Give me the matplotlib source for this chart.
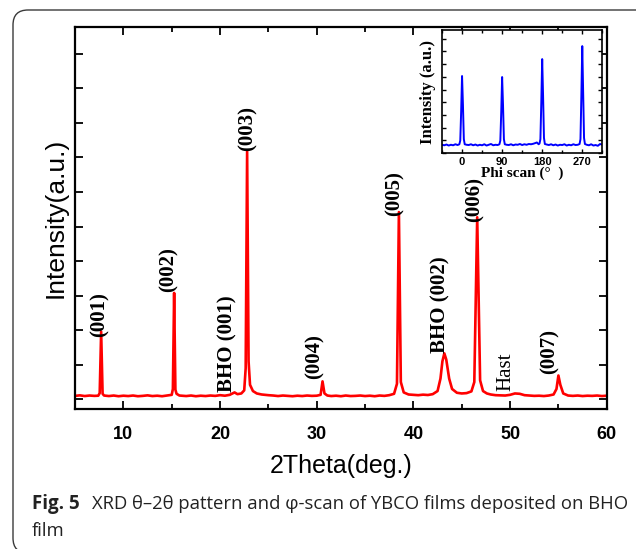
import matplotlib.pyplot as plt
from matplotlib.patches import FancyBboxPatch
from matplotlib.ticker import MultipleLocator

# XRD theta-2theta pattern (arbitrary counts)
theta = [5.0, 5.5, 6.0, 6.5, 7.0, 7.4, 7.55, 7.7, 7.85, 8.0, 8.5, 9.0, 9.5, 10.0, 10.5,
         11.0, 11.5, 12.0, 12.5, 13.0, 13.5, 14.0, 14.5, 15.0, 15.12, 15.25, 15.38, 15.5,
         15.8, 16.5, 17.0, 17.5, 18.0, 18.5, 19.0, 19.5, 20.0, 20.5, 21.0, 21.5, 21.8,
         22.2, 22.5, 22.65, 22.8, 22.95, 23.1, 23.4, 23.8, 24.3, 25.0, 25.5, 26.0, 26.5,
         27.0, 27.5, 28.0, 28.5, 29.0, 29.5, 30.0, 30.4, 30.6, 30.8, 31.1, 31.5, 32.0,
         32.5, 33.0, 33.5, 34.0, 34.5, 35.0, 35.5, 36.0, 36.5, 37.0, 37.5, 38.0, 38.3,
         38.5, 38.7, 39.0, 39.5, 40.0, 40.5, 41.0, 41.5, 42.0, 42.5, 42.8, 43.0, 43.2,
         43.4, 43.7, 44.0, 44.5, 45.0, 45.5, 46.0, 46.3, 46.6, 46.9, 47.2, 47.6, 48.0,
         48.5, 49.0, 49.5, 50.0, 50.5, 51.0, 51.5, 52.0, 52.5, 53.0, 53.5, 54.0, 54.5,
         54.8, 55.0, 55.2, 55.5, 56.0, 56.5, 57.0, 57.5, 58.0, 58.5, 59.0, 59.5, 60.0]
counts = [100, 115, 95, 110, 100, 105, 180, 1960, 160, 110, 95, 110, 90, 105, 95,
          110, 90, 100, 115, 95, 105, 90, 110, 130, 300, 3080, 280, 160,
          110, 95, 110, 90, 105, 95, 110, 100, 120, 105, 130, 200, 150,
          170, 260, 900, 7180, 1100, 420, 240, 170, 140, 120, 110, 95, 110,
          100, 90, 105, 95, 110, 100, 105, 130, 520, 170, 110, 95, 105,
          90, 110, 95, 100, 110, 95, 105, 90, 110, 100, 120, 160, 450,
          5420, 500, 200, 140, 130, 120, 135, 125, 150, 240, 600, 1100, 1330,
          1150, 600, 300, 190, 170, 180, 230, 500, 5270, 550, 240, 170, 140,
          120, 115, 110, 130, 170, 160, 120, 110, 100, 105, 95, 110, 140,
          300, 690, 420, 170, 110, 100, 110, 95, 105, 100, 110, 95, 105]

# peak labels: text, x position, y of text bottom, bold
peak_labels = ["(001)", "(002)", "BHO (001)", "(003)", "(004)", "(005)",
               "BHO (002)", "(006)", "Hast", "(007)"]
label_x = [7.5, 14.7, 20.8, 22.9, 29.8, 38.1, 42.8, 46.3, 49.6, 54.1]
label_y = [1790, 3110, 200, 7200, 580, 5300, 1350, 5130, 230, 720]
label_bold = [True, True, True, True, True, True, True, True, False, True]

# phi scan (inset)
phi = [-45, -40, -35, -30, -25, -20, -15, -10, -6, -4, -2, 0, 2, 4, 6, 10, 15, 20, 25,
       30, 35, 40, 45, 50, 55, 60, 65, 70, 75, 80, 84, 86, 88, 90, 92, 94, 96, 100, 105,
       110, 115, 120, 125, 130, 135, 140, 145, 150, 155, 160, 165, 168, 172, 174, 176,
       178, 180, 182, 184, 186, 190, 195, 200, 205, 210, 215, 220, 225, 230, 235, 240,
       245, 250, 255, 260, 264, 266, 268, 270, 272, 274, 276, 280, 285, 290, 295, 300,
       305, 310, 315]
phi_int = [66, 62, 68, 60, 66, 62, 70, 64, 70, 100, 330, 606, 380, 110, 70, 66, 64, 70,
           62, 68, 60, 66, 62, 70, 60, 66, 72, 62, 66, 64, 70, 100, 320, 598, 380, 110,
           70, 66, 64, 70, 62, 68, 66, 72, 64, 70, 66, 72, 70, 74, 80, 84, 70, 76, 110,
           400, 739, 450, 120, 72, 68, 64, 70, 62, 68, 60, 66, 64, 70, 60, 66,
           62, 70, 64, 66, 72, 110, 450, 841, 480, 120, 72, 66, 62, 70, 60, 64,
           58, 72, 66]
phi_ticks = [0, 90, 180, 270]

serif = "Liberation Serif"
sans = "Liberation Sans"

fig = plt.figure(figsize=(6.36, 5.49), dpi=100)

# rounded frame round the figure and caption
frame = FancyBboxPatch((0.13, -0.04), 6.38, 5.43,
                       boxstyle="round,pad=0,rounding_size=0.15",
                       transform=fig.dpi_scale_trans, fill=False,
                       edgecolor="#3a3a3a", linewidth=1.0)
fig.patches.append(frame)

ax = fig.add_axes([0.118, 0.255, 0.836, 0.696])
ax.plot(theta, counts, color="#ff0000", linewidth=1.9)
ax.set_xlim(5, 60)
ax.set_ylim(-280, 10780)
ax.xaxis.set_major_locator(MultipleLocator(10))
ax.xaxis.set_minor_locator(MultipleLocator(5))
ax.yaxis.set_major_locator(MultipleLocator(1000))
ax.tick_params(which="both", direction="in", top=True, right=True, width=1.3)
ax.tick_params(which="major", length=6)
ax.tick_params(which="minor", length=3.5)
ax.tick_params(axis="x", pad=12.5)
ax.set_yticklabels([])
for lab in ax.get_xticklabels():
    lab.set_fontfamily(sans)
    lab.set_fontweight("bold")
    lab.set_fontsize(13)
for s in ax.spines.values():
    s.set_linewidth(1.6)
ax.set_xlabel("2Theta(deg.)", fontsize=18, fontfamily=sans, labelpad=8)
ax.set_ylabel("Intensity(a.u.)", fontsize=19, fontfamily=sans, labelpad=2)

for t, x, y, b in zip(peak_labels, label_x, label_y, label_bold):
    ax.text(x, y, t, rotation=90, ha="center", va="bottom", fontsize=15,
            fontfamily=serif, fontweight="bold" if b else "normal")

# inset phi scan
ins = fig.add_axes([0.695, 0.721, 0.252, 0.224])
ins.plot(phi, phi_int, color="#0000ff", linewidth=1.4)
ins.set_xlim(-45, 315)
ins.set_ylim(0, 966)
ins.set_xticks(phi_ticks)
ins.xaxis.set_minor_locator(MultipleLocator(45))
ins.yaxis.set_major_locator(MultipleLocator(100))
ins.set_yticklabels([])
ins.tick_params(which="both", direction="in", top=True, right=True, width=1.0,
                pad=2.5)
ins.tick_params(which="major", length=3)
ins.tick_params(which="minor", length=2)
for lab in ins.get_xticklabels():
    lab.set_fontfamily(sans)
    lab.set_fontweight("bold")
    lab.set_fontsize(8)
for s in ins.spines.values():
    s.set_linewidth(1.2)
ins.set_xlabel("Phi scan (°  )", fontsize=11, fontfamily=serif, fontweight="bold",
               labelpad=0)
ins.set_ylabel("Intensity (a.u.)", fontsize=12, fontfamily=serif, fontweight="bold",
               labelpad=2)

# caption
cap_color = "#222222"
fig.text(32 / 636, 1 - 504 / 549, "Fig. 5", fontsize=13.5, fontfamily="Open Sans",
         fontweight="bold", va="center", color=cap_color)
fig.text(92 / 636, 1 - 504 / 549,
         "XRD θ–2θ pattern and φ-scan of YBCO films deposited on BHO",
         fontsize=13.3, fontfamily="Open Sans", va="center", color=cap_color)
fig.text(32 / 636, 1 - 531 / 549, "film", fontsize=13.3, fontfamily="Open Sans",
         va="center", color=cap_color)

plt.savefig("out.png", dpi=100)
plt.close()
